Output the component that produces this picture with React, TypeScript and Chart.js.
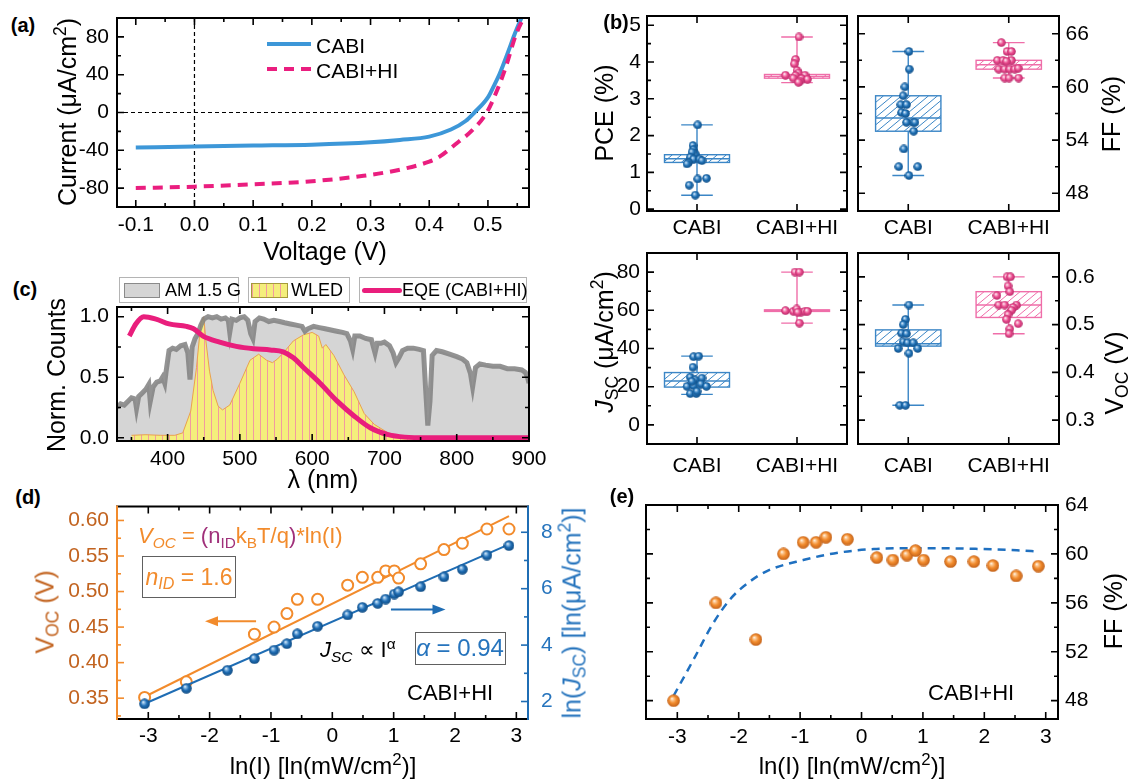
import React, { useEffect, useRef } from 'react';
import { Chart, registerables } from 'chart.js';

Chart.register(...registerables);
const FONT = "'Liberation Sans', Arial, Helvetica, sans-serif";
Chart.defaults.font.family = FONT;
Chart.defaults.color = '#000';

// ---------------- (a) J-V data ----------------
const vCabi = [-0.1, 0, 0.1, 0.2, 0.3, 0.35, 0.4, 0.437, 0.462, 0.477, 0.5, 0.51, 0.52, 0.535, 0.545, 0.557];
const jCabi = [-37, -36, -35, -34, -31.5, -29, -25.5, -18, -9, 0, 16, 28, 41, 65, 82, 100];
const vHI = [-0.1, 0, 0.1, 0.195, 0.288, 0.35, 0.4, 0.417, 0.448, 0.473, 0.498, 0.516, 0.531, 0.547, 0.562];
const jHI = [-80, -78.5, -76, -73, -67, -60.5, -52, -47, -32, -19, 0, 24, 49, 81, 102];

// ---------------- (b) box plot data ----------------
const categories = ['CABI', 'CABI+HI'];
const pceCabi = [2.29, 1.73, 1.61, 1.5, 1.55, 1.41, 1.36, 1.36, 1.32, 1.27, 1.23, 0.84, 0.82, 0.65, 0.38];
const pceCabiJit = [0.007, -0.04, -0.034, -0.017, -0.05, -0.068, -0.034, 0.027, 0.05, -0.085, -0.1, 0.095, 0.007, -0.078, -0.017];
const pceHI = [4.68, 4.07, 3.95, 3.77, 3.7, 3.64, 3.64, 3.63, 3.56, 3.55, 3.53, 3.48, 3.45];
const pceHIJit = [0.02, -0.014, -0.027, 0, 0.014, -0.115, 0.08, -0.014, -0.037, 0.047, 0.105, 0.03, 0.014];
const ffCabi = [64.0, 62.0, 60.0, 59.0, 58.0, 58.0, 57.1, 57.0, 56.0, 56.0, 56.0, 55.0, 53.0, 51.0, 51.0, 50.0];
const ffCabiJit = [0.007, 0.01, -0.034, -0.05, -0.074, -0.017, -0.067, -0.027, -0.017, 0.05, 0.067, 0.054, -0.044, -0.094, 0.094, 0.007];
const ffHI = [65.0, 64.0, 64.0, 63.0, 63.0, 63.0, 62.9, 62.0, 62.0, 62.0, 62.0, 62.1, 61.0, 61.0, 61.0];
const ffHIJit = [-0.074, -0.017, 0.027, -0.114, -0.057, 0.027, -0.024, -0.1, -0.04, 0.01, 0.06, 0.094, -0.04, 0.003, 0.098];
const jscCabi = [35.7, 36.0, 30.2, 25.0, 23.6, 24.5, 20.2, 20.5, 21.4, 20.2, 16.4, 16.4, 17.6, 22.8];
const jscCabiJit = [-0.034, 0.017, -0.04, -0.068, -0.017, 0.05, -0.1, -0.034, 0.04, 0.095, -0.068, -0.007, 0, -0.05];
const jscHI = [80, 80, 59.8, 59.5, 60.7, 59.0, 59.5, 59.5, 59.0, 53.3];
const jscHIJit = [-0.02, 0.024, -0.115, -0.037, -0.003, 0.04, 0.08, 0.105, 0.007, 0.024];
const vocCabi = [0.541, 0.511, 0.5, 0.482, 0.481, 0.464, 0.462, 0.462, 0.45, 0.45, 0.44, 0.331, 0.331];
const vocCabiJit = [0.007, -0.027, -0.05, -0.067, -0.017, -0.05, -0.007, 0.05, -0.1, 0.094, 0.007, -0.084, -0.027];
const vocHI = [0.6, 0.6, 0.581, 0.569, 0.561, 0.541, 0.541, 0.541, 0.536, 0.53, 0.521, 0.511, 0.502, 0.491, 0.481];
const vocHIJit = [-0.017, 0.017, -0.007, 0.01, -0.118, -0.1, -0.04, 0.077, 0.044, 0.027, -0.007, -0.024, 0.094, 0.01, 0.003];
// [min, q1, median, q3, max]
const pceCabiBox = [0.38, 1.27, 1.37, 1.48, 2.29];
const pceHIBox = [3.44, 3.56, 3.61, 3.66, 4.68];
const ffCabiBox = [50.0, 55.0, 56.5, 59.0, 64.0];
const ffHIBox = [61.0, 62.0, 62.5, 63.0, 65.0];
const jscCabiBox = [16.0, 19.8, 23.0, 27.4, 36.0];
const jscHIBox = [53.3, 59.7, 60.0, 60.2, 80.0];
const vocCabiBox = [0.331, 0.455, 0.46, 0.489, 0.541];
const vocHIBox = [0.481, 0.515, 0.541, 0.569, 0.6];

// ---------------- (c) spectra ----------------
const am15L = [330, 335, 340, 345, 350, 355, 357, 360, 365, 370, 374, 376, 380, 385, 390, 393, 396, 398, 402, 407, 412, 418, 424, 428, 431, 434, 438, 442, 446, 450, 456, 462, 468, 474, 480, 484, 486, 489, 495, 500, 506, 511, 515, 518, 521, 527, 533, 540, 547, 555, 562, 570, 578, 586, 590, 594, 602, 610, 618, 626, 634, 642, 648, 653, 656, 659, 666, 674, 682, 687, 690, 695, 700, 707, 712, 716, 720, 725, 732, 740, 748, 754, 757, 760, 763, 766, 772, 780, 790, 800, 808, 814, 819, 822, 826, 832, 840, 850, 860, 870, 880, 890, 895, 898, 900];
const am15V = [0.25, 0.28, 0.27, 0.3, 0.33, 0.32, 0.24, 0.34, 0.37, 0.4, 0.44, 0.3, 0.42, 0.46, 0.47, 0.5, 0.45, 0.55, 0.72, 0.74, 0.73, 0.76, 0.77, 0.7, 0.48, 0.75, 0.82, 0.86, 0.93, 0.98, 1.0, 0.99, 1.0, 0.98, 0.99, 0.97, 0.87, 0.98, 0.97, 0.99, 1.0, 0.97, 0.86, 0.82, 0.96, 0.99, 0.98, 0.96, 0.97, 0.96, 0.95, 0.94, 0.93, 0.92, 0.88, 0.9, 0.92, 0.91, 0.9, 0.89, 0.88, 0.87, 0.86, 0.8, 0.73, 0.84, 0.84, 0.82, 0.81, 0.7, 0.78, 0.78, 0.79, 0.76, 0.7, 0.62, 0.66, 0.72, 0.74, 0.74, 0.73, 0.72, 0.4, 0.1, 0.3, 0.68, 0.72, 0.71, 0.69, 0.67, 0.65, 0.62, 0.53, 0.42, 0.58, 0.61, 0.6, 0.59, 0.59, 0.57, 0.57, 0.56, 0.54, 0.5, 0.45];
const wledL = [350, 370, 390, 410, 421, 432, 440, 446, 450, 453, 458, 463, 470, 476, 486, 500, 514, 526, 537, 545, 552, 560, 574, 588, 600, 609, 614, 619, 630, 644, 658, 672, 686, 705, 728, 750];
const wledV = [0.02, 0.025, 0.02, 0.02, 0.04, 0.22, 0.58, 0.95, 1.0, 0.8, 0.55, 0.39, 0.26, 0.23, 0.27, 0.45, 0.64, 0.69, 0.64, 0.62, 0.65, 0.7, 0.8, 0.85, 0.87, 0.84, 0.74, 0.77, 0.68, 0.52, 0.38, 0.2, 0.11, 0.04, 0.005, 0];
const eqeL = [347, 356, 367, 384, 402, 426, 436, 449, 472, 495, 519, 542, 560, 574, 588, 611, 635, 658, 681, 705, 728, 760, 800, 900];
const eqeV = [0.84, 0.94, 1.0, 0.98, 0.94, 0.92, 0.9, 0.84, 0.79, 0.755, 0.735, 0.725, 0.71, 0.66, 0.58, 0.45, 0.3, 0.18, 0.08, 0.025, 0.005, 0, 0, 0];

// ---------------- (d) / (e) intensity dependence ----------------
const lnIVoc = [-3.06, -2.38, -1.27, -0.95, -0.74, -0.57, -0.24, 0.25, 0.49, 0.74, 0.87, 1.01, 1.08, 1.44, 1.82, 2.12, 2.52, 2.88];
const vocVals = [0.351, 0.373, 0.44, 0.45, 0.469, 0.489, 0.489, 0.509, 0.52, 0.52, 0.529, 0.529, 0.519, 0.539, 0.559, 0.568, 0.588, 0.588];
const lnIJsc = [-3.06, -2.38, -1.71, -1.27, -0.95, -0.74, -0.57, -0.24, 0.25, 0.49, 0.74, 0.87, 1.01, 1.08, 1.44, 1.82, 2.12, 2.52, 2.88];
const lnJscVals = [1.92, 2.47, 3.11, 3.52, 3.82, 4.05, 4.4, 4.67, 5.07, 5.34, 5.48, 5.63, 5.81, 5.89, 6.07, 6.42, 6.69, 7.19, 7.53];
const vocFitX = [-3.06, 2.88];
const vocFitY = [0.352, 0.606];
const jscFitX = [-3.06, 2.88];
const jscFitY = [1.92, 7.57];
const lnIFF = [-3.06, -2.37, -1.72, -1.27, -0.95, -0.74, -0.58, -0.23, 0.25, 0.51, 0.74, 0.88, 1.01, 1.45, 1.83, 2.14, 2.52, 2.88];
const ffVals = [48.0, 56.0, 53.0, 60.0, 60.95, 60.95, 61.36, 61.2, 59.7, 59.5, 59.9, 60.27, 59.5, 59.37, 59.37, 59.05, 58.2, 59.0];
const ffFitX = [-3.06, -2.71, -2.42, -2.12, -1.83, -1.54, -0.95, -0.38, 0.2, 0.78, 1.36, 1.95, 2.53, 2.88];
const ffFitY = [48.4, 51.6, 54.3, 56.4, 57.7, 58.6, 59.5, 60.1, 60.4, 60.46, 60.46, 60.4, 60.3, 60.2];

// ---------------- colours ----------------
const BLUE_PT = '#1e6fb3';
const BLUE_EDGE = '#3b86c6';
const PINK_PT = '#ea4b8e';
const PINK_EDGE = '#ef6ea9';
const A_BLUE = '#3d97d8';
const A_MAG = '#ea1e7f';
const EQE_MAG = '#e91e7c';
const ORANGE = '#f28b2c';
const ORANGE_LABEL = '#c2631f';
const BLUE_D = '#1f6db4';
const BLUE_LABEL = '#2674bd';
const PURPLE = '#a0307a';

// ---------------- helpers ----------------
const pts = (xs: number[], ys: number[]) => xs.map((x, i) => ({ x, y: ys[i] }));
const jit = (c: number, j: number[], v: number[]) => v.map((y, i) => ({ x: c + j[i], y }));
const isMult = (v: number, m: number) => Math.abs(v / m - Math.round(v / m)) < 1e-6;
const fmtMult = (m: number, dec: number) => (v: number) =>
  isMult(v, m) ? (Math.abs(v) < 1e-9 ? (0).toFixed(dec) : v.toFixed(dec)) : '';
const fmtCat = (v: number) => (Math.abs(v - 1) < 1e-6 ? categories[0] : Math.abs(v - 2) < 1e-6 ? categories[1] : '');

function sphere(base: string, light: string, dark: string, d: number) {
  const c = document.createElement('canvas');
  c.width = d;
  c.height = d;
  const g = c.getContext('2d')!;
  const r = d / 2;
  const grad = g.createRadialGradient(d * 0.36, d * 0.33, 0, r, r, r);
  grad.addColorStop(0, '#ffffff');
  grad.addColorStop(0.22, light);
  grad.addColorStop(0.55, base);
  grad.addColorStop(1, dark);
  g.fillStyle = grad;
  g.beginPath();
  g.arc(r, r, r - 0.2, 0, Math.PI * 2);
  g.fill();
  return c;
}

function axis(pos: string, min: number, max: number, step: number, fmt: (v: number) => string, pad: number, size: number, color = '#000') {
  return {
    type: 'linear',
    position: pos,
    min,
    max,
    grid: { display: false, drawTicks: false },
    border: { display: false },
    ticks: {
      stepSize: step,
      autoSkip: false,
      maxRotation: 0,
      minRotation: 0,
      includeBounds: false,
      padding: pad,
      color,
      font: { size: 21, family: FONT },
      callback: (v: any) => fmt(Number(v)),
    },
    afterFit: (s: any) => {
      if (s.isHorizontal()) s.height = size;
      else s.width = size;
    },
  };
}

const framePlugin = {
  id: 'frame',
  beforeDatasetsDraw(chart: any, _a: any, o: any) {
    const { ctx, chartArea: a } = chart;
    (o.refLines || []).forEach((r: any) => {
      const s = chart.scales[r.axis];
      const p = s.getPixelForValue(r.value);
      ctx.save();
      ctx.strokeStyle = '#000';
      ctx.lineWidth = 1.2;
      ctx.setLineDash([4, 3]);
      ctx.beginPath();
      if (s.isHorizontal()) {
        ctx.moveTo(p, a.top);
        ctx.lineTo(p, a.bottom);
      } else {
        ctx.moveTo(a.left, p);
        ctx.lineTo(a.right, p);
      }
      ctx.stroke();
      ctx.restore();
    });
  },
  afterDatasetsDraw(chart: any, _a: any, o: any) {
    const { ctx, chartArea: a } = chart;
    ctx.save();
    ctx.setLineDash([]);
    (o.arrows || []).forEach((ar: any) => {
      const xs = chart.scales[ar.xAxis];
      const ys = chart.scales[ar.yAxis];
      const x0 = xs.getPixelForValue(ar.from[0]);
      const y0 = ys.getPixelForValue(ar.from[1]);
      const x1 = xs.getPixelForValue(ar.to[0]);
      const y1 = ys.getPixelForValue(ar.to[1]);
      const ang = Math.atan2(y1 - y0, x1 - x0);
      const hl = 13;
      const hw = 5;
      const ca = Math.cos(ang);
      const sa = Math.sin(ang);
      ctx.strokeStyle = ar.color;
      ctx.fillStyle = ar.color;
      ctx.lineWidth = 2;
      ctx.beginPath();
      ctx.moveTo(x0, y0);
      ctx.lineTo(x1 - hl * 0.8 * ca, y1 - hl * 0.8 * sa);
      ctx.stroke();
      ctx.beginPath();
      ctx.moveTo(x1, y1);
      ctx.lineTo(x1 - hl * ca + hw * sa, y1 - hl * sa - hw * ca);
      ctx.lineTo(x1 - hl * ca - hw * sa, y1 - hl * sa + hw * ca);
      ctx.closePath();
      ctx.fill();
    });
    (o.ticks || []).forEach((t: any) => {
      const s = chart.scales[t.axis];
      ctx.strokeStyle = t.color || '#000';
      ctx.lineWidth = 1.6;
      const horiz = s.isHorizontal();
      s.ticks.forEach((tk: any) => {
        const major = tk.label !== '' && tk.label != null;
        if (!major && !t.minor) return;
        const p = s.getPixelForValue(tk.value);
        if (horiz ? p < a.left + 1.5 || p > a.right - 1.5 : p < a.top + 1.5 || p > a.bottom - 1.5) return;
        const len = major ? 7 : 4;
        ctx.beginPath();
        t.sides.forEach((side: string) => {
          if (side === 'bottom') { ctx.moveTo(p, a.bottom); ctx.lineTo(p, a.bottom - len); }
          if (side === 'top') { ctx.moveTo(p, a.top); ctx.lineTo(p, a.top + len); }
          if (side === 'left') { ctx.moveTo(a.left, p); ctx.lineTo(a.left + len, p); }
          if (side === 'right') { ctx.moveTo(a.right, p); ctx.lineTo(a.right - len, p); }
        });
        ctx.stroke();
      });
    });
    const c = Object.assign({ top: '#000', bottom: '#000', left: '#000', right: '#000' }, o.border || {});
    ctx.lineWidth = 2;
    ctx.lineCap = 'square';
    const seg = (col: string, x0: number, y0: number, x1: number, y1: number) => {
      ctx.strokeStyle = col;
      ctx.beginPath();
      ctx.moveTo(x0, y0);
      ctx.lineTo(x1, y1);
      ctx.stroke();
    };
    seg(c.top, a.left, a.top, a.right, a.top);
    seg(c.bottom, a.left, a.bottom, a.right, a.bottom);
    seg(c.left, a.left, a.top, a.left, a.bottom);
    seg(c.right, a.right, a.top, a.right, a.bottom);
    ctx.restore();
  },
};

const boxPlugin = {
  id: 'boxes',
  beforeDatasetsDraw(chart: any, _a: any, o: any) {
    const { ctx } = chart;
    const xs = chart.scales.x;
    const ys = chart.scales.y;
    (o.items || []).forEach((b: any) => {
      const [mn, q1, md, q3, mx] = b.stats;
      const cx = xs.getPixelForValue(b.x);
      const xl = xs.getPixelForValue(b.x - b.half);
      const xr = xs.getPixelForValue(b.x + b.half);
      const cl = xs.getPixelForValue(b.x - b.cap);
      const cr = xs.getPixelForValue(b.x + b.cap);
      const y = (v: number) => ys.getPixelForValue(v);
      ctx.save();
      ctx.strokeStyle = b.color;
      ctx.lineWidth = 1.4;
      ctx.beginPath();
      ctx.moveTo(cx, y(mn)); ctx.lineTo(cx, y(mx));
      ctx.moveTo(cl, y(mn)); ctx.lineTo(cr, y(mn));
      ctx.moveTo(cl, y(mx)); ctx.lineTo(cr, y(mx));
      ctx.stroke();
      const top = y(q3);
      const bot = y(q1);
      const h = Math.max(bot - top, 1.5);
      ctx.fillStyle = '#fff';
      ctx.fillRect(xl, top, xr - xl, h);
      ctx.save();
      ctx.beginPath();
      ctx.rect(xl, top, xr - xl, h);
      ctx.clip();
      ctx.lineWidth = 1;
      ctx.beginPath();
      const k = h * 1.2;
      for (let s = xl - k - 10; s < xr + 10; s += 9) {
        ctx.moveTo(s, top + h);
        ctx.lineTo(s + k, top);
      }
      ctx.stroke();
      ctx.restore();
      ctx.lineWidth = 1.4;
      ctx.strokeRect(xl, top, xr - xl, h);
      ctx.beginPath();
      ctx.moveTo(xl, y(md));
      ctx.lineTo(xr, y(md));
      ctx.stroke();
      ctx.restore();
    });
  },
};

type Plot = { L: number; T: number; R: number; B: number };
type Marg = { l: number; t: number; r: number; b: number };
const rectOf = (p: Plot, m: Marg) => ({ x: p.L - m.l, y: p.T - m.t, w: p.R - p.L + m.l + m.r, h: p.B - p.T + m.t + m.b });

function baseOpts(m: Marg, leftAxis: boolean, rightAxis: boolean) {
  return {
    responsive: false,
    maintainAspectRatio: false,
    animation: false,
    devicePixelRatio: 1,
    events: [],
    layout: { padding: { left: leftAxis ? 0 : m.l, right: rightAxis ? 0 : m.r, top: m.t, bottom: 0 } },
  };
}

// ---------------- layouts ----------------
const A_P: Plot = { L: 117, T: 18, R: 529, B: 207 };
const A_M: Marg = { l: 60, t: 24, r: 20, b: 40 };
const PCE_P: Plot = { L: 647, T: 16, R: 847, B: 211 };
const FF_P: Plot = { L: 858, T: 16, R: 1059, B: 211 };
const JSC_P: Plot = { L: 647, T: 253, R: 847, B: 444 };
const VOC_P: Plot = { L: 858, T: 253, R: 1059, B: 444 };
const BL_M: Marg = { l: 50, t: 24, r: 10, b: 40 };
const BR_M: Marg = { l: 10, t: 24, r: 60, b: 40 };
const C_P: Plot = { L: 117, T: 307, R: 529, B: 441 };
const C_M: Marg = { l: 60, t: 24, r: 30, b: 40 };
const D_P: Plot = { L: 117, T: 505, R: 528, B: 719 };
const D_M: Marg = { l: 60, t: 24, r: 40, b: 40 };
const E_P: Plot = { L: 646, T: 505, R: 1058, B: 719 };
const E_M: Marg = { l: 20, t: 24, r: 60, b: 40 };

const lineDs = (data: any[], color: string, width: number, extra: any = {}) => ({
  data,
  showLine: true,
  borderColor: color,
  backgroundColor: color,
  borderWidth: width,
  pointRadius: 0,
  clip: 0,
  ...extra,
});

function buildA() {
  return {
    type: 'scatter',
    data: {
      datasets: [
        lineDs(pts(vCabi, jCabi), A_BLUE, 4, { cubicInterpolationMode: 'monotone', order: 2 }),
        lineDs(pts(vHI, jHI), A_MAG, 4, { cubicInterpolationMode: 'monotone', borderDash: [10, 7], order: 1 }),
      ],
    },
    options: {
      ...baseOpts(A_M, true, false),
      scales: {
        x: axis('bottom', -0.132, 0.57, 0.05, fmtMult(0.1, 1), 6, A_M.b),
        y: axis('left', -100, 100, 20, fmtMult(40, 0), 8, A_M.l),
      },
      plugins: {
        legend: { display: false },
        tooltip: { enabled: false },
        frame: {
          ticks: [
            { axis: 'x', sides: ['bottom', 'top'], minor: true },
            { axis: 'y', sides: ['left', 'right'], minor: true },
          ],
          refLines: [{ axis: 'x', value: 0 }, { axis: 'y', value: 0 }],
        },
      },
    },
    plugins: [framePlugin],
  };
}

function buildBox(opts: {
  cabi: number[]; cabiJit: number[]; hi: number[]; hiJit: number[]; cabiBox: number[]; hiBox: number[];
  yMin: number; yMax: number; step: number; fmt: (v: number) => string; right: boolean; m: Marg; xPad: number; yPad: number;
}) {
  const bImg = sphere(BLUE_PT, '#8dbde6', '#124f86', 9);
  const pImg = sphere(PINK_PT, '#f8b5d1', '#b42a68', 9);
  return {
    type: 'scatter',
    data: {
      datasets: [
        { data: jit(1, opts.cabiJit, opts.cabi), pointStyle: bImg, pointRadius: 4.5, showLine: false },
        { data: jit(2, opts.hiJit, opts.hi), pointStyle: pImg, pointRadius: 4.5, showLine: false },
      ],
    },
    options: {
      ...baseOpts(opts.m, !opts.right, opts.right),
      scales: {
        x: axis('bottom', 0.5, 2.5, 0.5, fmtCat, opts.xPad, opts.m.b),
        y: axis(opts.right ? 'right' : 'left', opts.yMin, opts.yMax, opts.step, opts.fmt, opts.yPad, opts.right ? opts.m.r : opts.m.l),
      },
      plugins: {
        legend: { display: false },
        tooltip: { enabled: false },
        frame: {
          ticks: [
            { axis: 'x', sides: ['bottom', 'top'], minor: false },
            { axis: 'y', sides: ['left', 'right'], minor: true },
          ],
        },
        boxes: {
          items: [
            { x: 1, stats: opts.cabiBox, color: BLUE_EDGE, half: 0.325, cap: 0.158 },
            { x: 2, stats: opts.hiBox, color: PINK_EDGE, half: 0.325, cap: 0.158 },
          ],
        },
      },
    },
    plugins: [boxPlugin, framePlugin],
  };
}

function buildC() {
  const pc = document.createElement('canvas');
  pc.width = 7;
  pc.height = 8;
  const g = pc.getContext('2d')!;
  g.fillStyle = '#f4ee7c';
  g.fillRect(0, 0, 7, 8);
  g.fillStyle = '#f29aa0';
  g.fillRect(0, 0, 1, 8);
  const pattern = g.createPattern(pc, 'repeat');
  return {
    type: 'scatter',
    data: {
      datasets: [
        lineDs(pts(am15L, am15V), 'rgba(0,0,0,0)', 0, { fill: 'start', backgroundColor: '#d5d5d5', order: 4 }),
        lineDs(pts(wledL, wledV), '#eaa14f', 1, { fill: 'start', backgroundColor: pattern, order: 3 }),
        lineDs(pts(am15L, am15V), 'rgba(128,128,128,0.85)', 5, { order: 2 }),
        lineDs(pts(eqeL, eqeV), EQE_MAG, 5, { cubicInterpolationMode: 'monotone', order: 1 }),
      ],
    },
    options: {
      ...baseOpts(C_M, true, false),
      scales: {
        x: axis('bottom', 330, 900, 50, fmtMult(100, 0), 6, C_M.b),
        y: axis('left', -0.027, 1.08, 0.25, fmtMult(0.5, 1), 8, C_M.l),
      },
      plugins: {
        legend: { display: false },
        tooltip: { enabled: false },
        frame: {
          ticks: [
            { axis: 'x', sides: ['bottom', 'top'], minor: true },
            { axis: 'y', sides: ['left', 'right'], minor: true },
          ],
        },
      },
    },
    plugins: [framePlugin],
  };
}

function buildD() {
  const bImg = sphere(BLUE_D, '#8dbde6', '#0f4a80', 11);
  return {
    type: 'scatter',
    data: {
      datasets: [
        lineDs(pts(vocFitX, vocFitY), ORANGE, 2, { yAxisID: 'y', order: 4 }),
        { data: pts(lnIVoc, vocVals), yAxisID: 'y', pointStyle: 'circle', pointRadius: 5.5, borderColor: ORANGE, borderWidth: 2, backgroundColor: '#fff', showLine: false, order: 3 },
        lineDs(pts(jscFitX, jscFitY), BLUE_D, 2, { yAxisID: 'y2', order: 2 }),
        { data: pts(lnIJsc, lnJscVals), yAxisID: 'y2', pointStyle: bImg, pointRadius: 5.5, showLine: false, order: 1 },
      ],
    },
    options: {
      ...baseOpts(D_M, true, true),
      scales: {
        x: axis('bottom', -3.51, 3.19, 0.5, fmtMult(1, 0), 5, D_M.b),
        y: axis('left', 0.3207, 0.6195, 0.025, fmtMult(0.05, 2), 8, D_M.l, ORANGE_LABEL),
        y2: axis('right', 1.38, 8.91, 1, fmtMult(2, 0), 13, D_M.r, BLUE_LABEL),
      },
      plugins: {
        legend: { display: false },
        tooltip: { enabled: false },
        frame: {
          ticks: [
            { axis: 'x', sides: ['bottom', 'top'], minor: true },
            { axis: 'y', sides: ['left'], minor: true, color: ORANGE },
            { axis: 'y2', sides: ['right'], minor: true, color: BLUE_D },
          ],
          border: { left: ORANGE, right: BLUE_D },
          arrows: [
            { xAxis: 'x', yAxis: 'y', from: [-1.243, 0.4582], to: [-2.075, 0.4582], color: ORANGE },
            { xAxis: 'x', yAxis: 'y2', from: [0.956, 5.26], to: [1.845, 5.26], color: BLUE_D },
          ],
        },
      },
    },
    plugins: [framePlugin],
  };
}

function buildE() {
  const oImg = sphere(ORANGE, '#fcc892', '#c0601a', 13);
  return {
    type: 'scatter',
    data: {
      datasets: [
        lineDs(pts(ffFitX, ffFitY), '#1f70c0', 2.5, { cubicInterpolationMode: 'monotone', borderDash: [8, 6], order: 2 }),
        { data: pts(lnIFF, ffVals), pointStyle: oImg, pointRadius: 6.5, showLine: false, order: 1 },
      ],
    },
    options: {
      ...baseOpts(E_M, false, true),
      scales: {
        x: axis('bottom', -3.51, 3.2, 0.5, fmtMult(1, 0), 6, E_M.b),
        y: axis('right', 46.5, 64, 2, fmtMult(4, 0), 7, E_M.r),
      },
      plugins: {
        legend: { display: false },
        tooltip: { enabled: false },
        frame: {
          ticks: [
            { axis: 'x', sides: ['bottom', 'top'], minor: true },
            { axis: 'y', sides: ['left', 'right'], minor: true },
          ],
        },
      },
    },
    plugins: [framePlugin],
  };
}

function ChartCanvas({ plot, m, build }: { plot: Plot; m: Marg; build: () => any }) {
  const ref = useRef<HTMLCanvasElement>(null);
  const r = rectOf(plot, m);
  useEffect(() => {
    const chart = new Chart(ref.current as HTMLCanvasElement, build());
    return () => chart.destroy();
  }, []);
  return (
    <canvas
      ref={ref}
      width={r.w}
      height={r.h}
      style={{ position: 'absolute', left: r.x, top: r.y, width: r.w, height: r.h }}
    />
  );
}

const Sub = ({ children }: any) => (
  <span style={{ fontSize: '0.7em', verticalAlign: '-0.3em', lineHeight: 0 }}>{children}</span>
);
const Sup = ({ children }: any) => (
  <span style={{ fontSize: '0.7em', verticalAlign: '0.55em', lineHeight: 0 }}>{children}</span>
);

function Txt({ x, y, rot = false, left = false, size = 25, color = '#000', bold = false, children }: any) {
  const tr = `translate(${left ? '0' : '-50%'}, -50%)${rot ? ' rotate(-90deg)' : ''}`;
  return (
    <div
      style={{
        position: 'absolute',
        left: x,
        top: y,
        transform: tr,
        whiteSpace: 'nowrap',
        fontSize: size,
        lineHeight: 1,
        color,
        fontWeight: bold ? 'bold' : 'normal',
        fontFamily: FONT,
      }}
    >
      {children}
    </div>
  );
}

const boxDiv = (x: number, y: number, w: number, h: number, border: string): any => ({
  position: 'absolute',
  left: x,
  top: y,
  width: w,
  height: h,
  border: `1.5px solid ${border}`,
  boxSizing: 'border-box',
  background: '#fff',
});

export default function App() {
  const bPCE = () => buildBox({ cabi: pceCabi, cabiJit: pceCabiJit, hi: pceHI, hiJit: pceHIJit, cabiBox: pceCabiBox, hiBox: pceHIBox, yMin: -0.05, yMax: 5.25, step: 0.5, fmt: fmtMult(1, 0), right: false, m: BL_M, xPad: 5, yPad: 6 });
  const bFF = () => buildBox({ cabi: ffCabi, cabiJit: ffCabiJit, hi: ffHI, hiJit: ffHIJit, cabiBox: ffCabiBox, hiBox: ffHIBox, yMin: 46, yMax: 68, step: 3, fmt: fmtMult(6, 0), right: true, m: BR_M, xPad: 5, yPad: 6.5 });
  const bJSC = () => buildBox({ cabi: jscCabi, cabiJit: jscCabiJit, hi: jscHI, hiJit: jscHIJit, cabiBox: jscCabiBox, hiBox: jscHIBox, yMin: -10, yMax: 90, step: 10, fmt: fmtMult(20, 0), right: false, m: BL_M, xPad: 10, yPad: 7 });
  const bVOC = () => buildBox({ cabi: vocCabi, cabiJit: vocCabiJit, hi: vocHI, hiJit: vocHIJit, cabiBox: vocCabiBox, hiBox: vocHIBox, yMin: 0.25, yMax: 0.65, step: 0.05, fmt: fmtMult(0.1, 1), right: true, m: BR_M, xPad: 10, yPad: 6.5 });

  return (
    <div style={{ position: 'absolute', left: 0, top: 0, width: 1131, height: 782, background: '#fff', overflow: 'hidden', fontFamily: FONT }}>
      <ChartCanvas plot={A_P} m={A_M} build={buildA} />
      <ChartCanvas plot={PCE_P} m={BL_M} build={bPCE} />
      <ChartCanvas plot={FF_P} m={BR_M} build={bFF} />
      <ChartCanvas plot={JSC_P} m={BL_M} build={bJSC} />
      <ChartCanvas plot={VOC_P} m={BR_M} build={bVOC} />
      <ChartCanvas plot={C_P} m={C_M} build={buildC} />
      <ChartCanvas plot={D_P} m={D_M} build={buildD} />
      <ChartCanvas plot={E_P} m={E_M} build={buildE} />

      {/* panel labels */}
      <Txt x={23} y={25} size={20} bold>(a)</Txt>
      <Txt x={616} y={22} size={20} bold>(b)</Txt>
      <Txt x={25} y={289} size={20} bold>(c)</Txt>
      <Txt x={28} y={497} size={20} bold>(d)</Txt>
      <Txt x={622} y={496} size={20} bold>(e)</Txt>

      {/* (a) */}
      <Txt x={67} y={112} rot>Current (μA/cm<Sup>2</Sup>)</Txt>
      <Txt x={325} y={251}>Voltage (V)</Txt>
      <div style={{ position: 'absolute', left: 267, top: 42, width: 44, height: 4, background: A_BLUE }} />
      <div style={{ position: 'absolute', left: 267, top: 67, width: 44, height: 4, background: `repeating-linear-gradient(to right, ${A_MAG} 0 10px, transparent 10px 17px)` }} />
      <Txt x={316} y={45} left size={21}>CABI</Txt>
      <Txt x={316} y={70} left size={21}>CABI+HI</Txt>

      {/* (b) */}
      <Txt x={604} y={113} rot>PCE (%)</Txt>
      <Txt x={1111} y={114} rot>FF (%)</Txt>
      <Txt x={604} y={342} rot><i>J</i><Sub>SC</Sub> (μA/cm<Sup>2</Sup>)</Txt>
      <Txt x={1114} y={373} rot>V<Sub>OC</Sub> (V)</Txt>

      {/* (c) */}
      <Txt x={56} y={375} rot>Norm. Counts</Txt>
      <Txt x={323} y={479}>λ (nm)</Txt>
      <div style={boxDiv(119, 277, 120, 26, '#b4b4b4')}>
        <div style={{ position: 'absolute', left: 4, top: 5, width: 36, height: 15, background: '#d5d5d5', border: '1.5px solid #8a8a8a', boxSizing: 'border-box' }} />
      </div>
      <Txt x={165} y={290} left size={18}>AM 1.5 G</Txt>
      <div style={boxDiv(248, 277, 102, 26, '#b4b4b4')}>
        <div style={{ position: 'absolute', left: 2, top: 5, width: 37, height: 15, background: 'repeating-linear-gradient(to right, #f29aa0 0 1px, #f4ee7c 1px 7px)', border: '1.5px solid #a59a3a', boxSizing: 'border-box' }} />
      </div>
      <Txt x={291} y={290} left size={18}>WLED</Txt>
      <div style={boxDiv(359, 277, 168, 26, '#b4b4b4')}>
        <div style={{ position: 'absolute', left: 2, top: 9.5, width: 40, height: 5, borderRadius: 3, background: EQE_MAG }} />
      </div>
      <Txt x={402} y={290} left size={18}>EQE (CABI+HI)</Txt>

      {/* (d) */}
      <Txt x={45} y={612} rot color={ORANGE_LABEL}>V<Sub>OC</Sub> (V)</Txt>
      <Txt x={572} y={613} rot color={BLUE_LABEL}>ln(<i>J</i><Sub>SC</Sub>) [ln(μA/cm<Sup>2</Sup>)]</Txt>
      <Txt x={323} y={766} size={24}>ln(I) [ln(mW/cm<Sup>2</Sup>)]</Txt>
      <Txt x={138} y={536} left size={22} color={ORANGE}>
        <i>V</i><Sub><i>OC</i></Sub> = <span style={{ color: PURPLE }}>(n<Sub>ID</Sub></span>k<Sub>B</Sub>T/q<span style={{ color: PURPLE }}>)</span>*ln(I)
      </Txt>
      <div style={boxDiv(142, 556, 94, 42, '#606060')} />
      <Txt x={189} y={577} size={23} color={ORANGE}><i>n</i><Sub><i>ID</i></Sub> = 1.6</Txt>
      <Txt x={320} y={650} left size={22}><i>J</i><Sub><i>SC</i></Sub> ∝ I<Sup>α</Sup></Txt>
      <div style={boxDiv(415, 632, 91, 33, '#606060')} />
      <Txt x={460} y={648} size={24} color={BLUE_LABEL}><i>α</i> = 0.94</Txt>
      <Txt x={407} y={693} left size={22}>CABI+HI</Txt>

      {/* (e) */}
      <Txt x={1113} y={611} rot>FF (%)</Txt>
      <Txt x={852} y={766} size={24}>ln(I) [ln(mW/cm<Sup>2</Sup>)]</Txt>
      <Txt x={928} y={693} left size={22}>CABI+HI</Txt>
    </div>
  );
}
